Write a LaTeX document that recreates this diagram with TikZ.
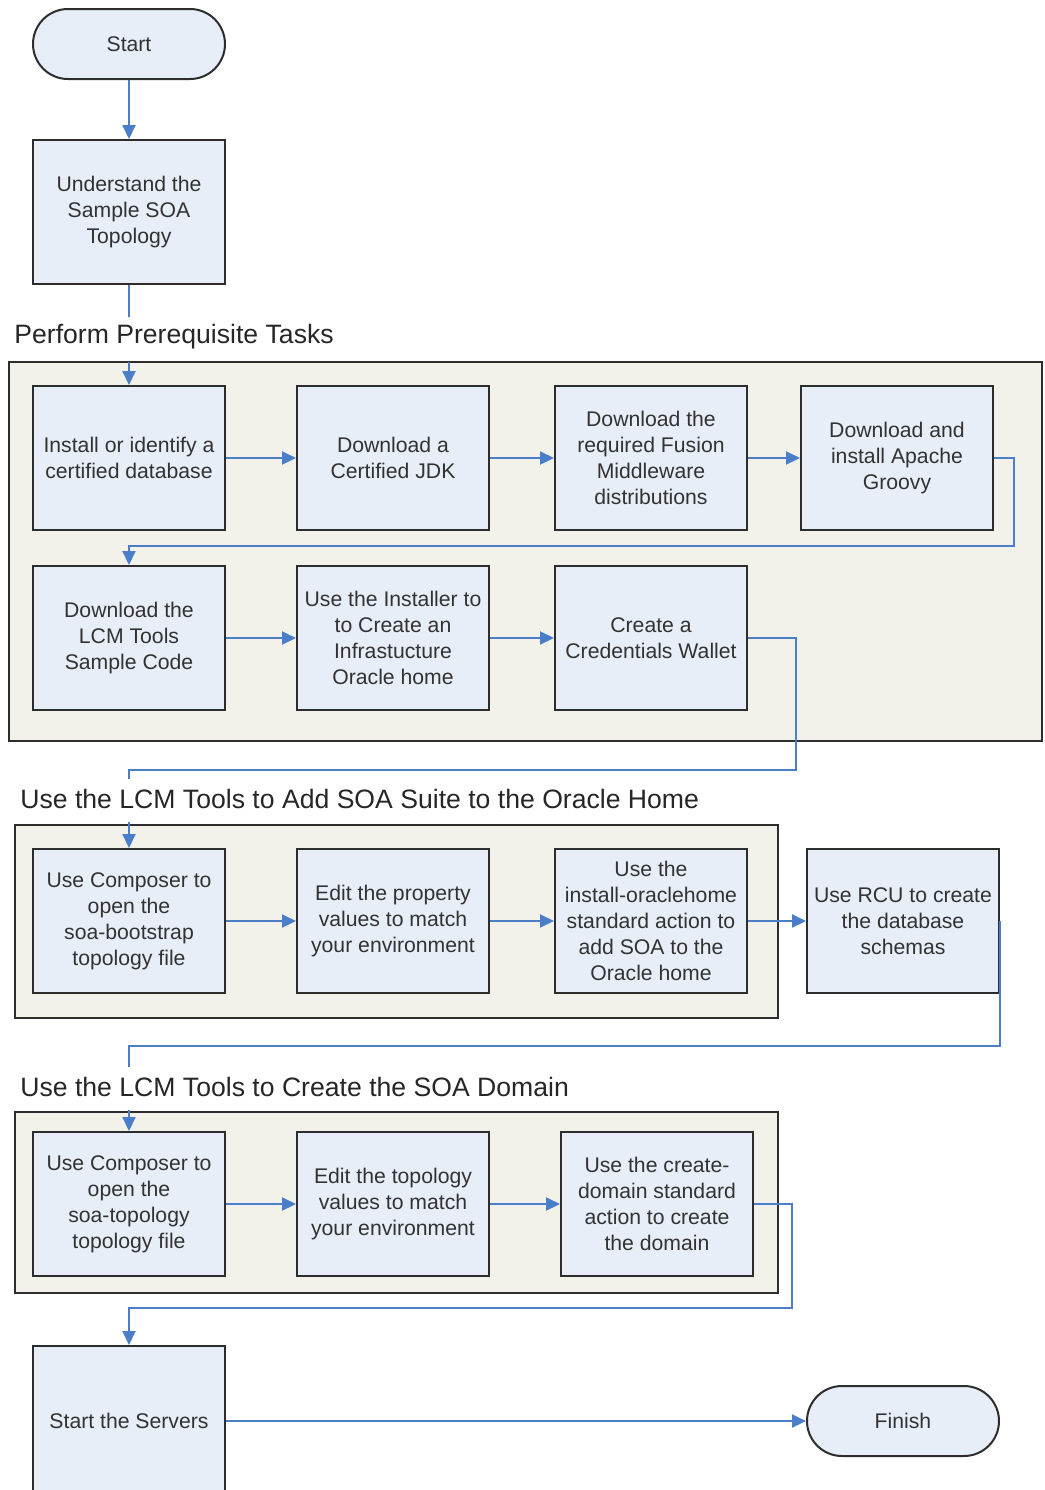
\documentclass[tikz,border=0pt]{standalone}
\usepackage{fontspec}
\setmainfont{Liberation Sans}
\usetikzlibrary{arrows.meta}
\definecolor{boxfill}{RGB}{232, 238, 248}
\definecolor{groupfill}{RGB}{242, 242, 235}
\definecolor{linkcolor}{RGB}{74, 126, 200}
\definecolor{textcolor}{RGB}{50, 50, 50}
\definecolor{edgecolor}{RGB}{45, 45, 45}

\tikzset{
    task/.style={draw=edgecolor, line width=1pt, fill=boxfill, text=textcolor,
        minimum width=96pt, minimum height=72pt, inner sep=2pt, align=center,
        font=\fontsize{10.6}{13}\selectfont},
    term/.style={task, minimum height=35pt, rounded corners=17.5pt},
    group/.style={draw=edgecolor, line width=1pt, fill=groupfill},
    grouptitle/.style={anchor=west, inner sep=0pt, text=black!85,
        font=\fontsize{13.3}{15}\selectfont},
    link/.style={draw=linkcolor, line width=1pt},
    flow/.style={link, -{Triangle[length=7pt,width=6.5pt]}}
}

\begin{document}
\begin{tikzpicture}[x=0.5pt, y=-0.5pt]
    \useasboundingbox (0,0) rectangle (1045,1490);

    % Groups
    \draw[group] (9,362) rectangle (1042,741);
    \draw[group] (15,825) rectangle (778,1018);
    \draw[group] (15,1112) rectangle (778,1293);

    % Group titles
    \node[grouptitle] (title1) at (14,337) {Perform Prerequisite Tasks};
    \node[grouptitle] (title2) at (20,799) {Use the LCM Tools to Add SOA Suite to the Oracle Home};
    \node[grouptitle] (title3) at (20,1087) {Use the LCM Tools to Create the SOA Domain};

    % Start and overview
    \node[term] (start) at (129,44) {Start};
    \node[task] (und) at (129,212) {Understand the\\Sample SOA\\Topology};

    % Prerequisite tasks
    \node[task] (a1) at (129,458) {Install or identify a\\certified database};
    \node[task] (a2) at (393,458) {Download a\\Certified JDK};
    \node[task] (a3) at (651,458) {Download the\\required Fusion\\Middleware\\distributions};
    \node[task] (a4) at (897,458) {Download and\\install Apache\\Groovy};
    \node[task] (a5) at (129,638) {Download the\\LCM Tools\\Sample Code};
    \node[task] (a6) at (393,638) {Use the Installer to\\to Create an\\Infrastucture\\Oracle home};
    \node[task] (a7) at (651,638) {Create a\\Credentials Wallet};

    % Add SOA Suite
    \node[task] (b1) at (129,921) {Use Composer to\\open the\\soa-bootstrap\\topology file};
    \node[task] (b2) at (393,921) {Edit the property\\values to match\\your environment};
    \node[task] (b3) at (651,921) {Use the\\install-oraclehome\\standard action to\\add SOA to the\\Oracle home};
    \node[task] (b4) at (903,921) {Use RCU to create\\the database\\schemas};

    % Create the domain
    \node[task] (c1) at (129,1204) {Use Composer to\\open the\\soa-topology\\topology file};
    \node[task] (c2) at (393,1204) {Edit the topology\\values to match\\your environment};
    \node[task] (c3) at (657,1204) {Use the create-\\domain standard\\action to create\\the domain};

    % Servers and finish
    \node[task, minimum height=75pt] (d1) at (129,1421) {Start the Servers};
    \node[term] (fin) at (903,1421) {Finish};

    % Break points round the titles
    \coordinate (t1a) at (129,317);
    \coordinate (t1b) at (129,362);
    \coordinate (t2a) at (129,779);
    \coordinate (t2b) at (129,822);
    \coordinate (t3a) at (129,1067);
    \coordinate (t3b) at (129,1110);

    % Straight connectors
    \draw[flow] (start) -- (und);
    \foreach \u/\v in {a1/a2, a2/a3, a3/a4, a5/a6, a6/a7,
                       b1/b2, b2/b3, b3/b4, c1/c2, c2/c3, d1/fin}
        \draw[flow] (\u.east) -- (\v.west);

    % Elbow connectors
    \draw[link] (und.south) -- (t1a);
    \draw[flow] (t1b) -- (a1.north);
    \draw[flow] (a4.east) -- ++(20,0) |- (129,546) -- (a5.north);
    \draw[link] (a7.east) -- ++(48,0) |- (129,770) -- (t2a);
    \draw[flow] (t2b) -- (b1.north);
    \draw[link] (b4.east) |- (129,1046) -- (t3a);
    \draw[flow] (t3b) -- (c1.north);
    \draw[flow] (c3.east) -- ++(38,0) |- (129,1308) -- (d1.north);
\end{tikzpicture}
\end{document}
